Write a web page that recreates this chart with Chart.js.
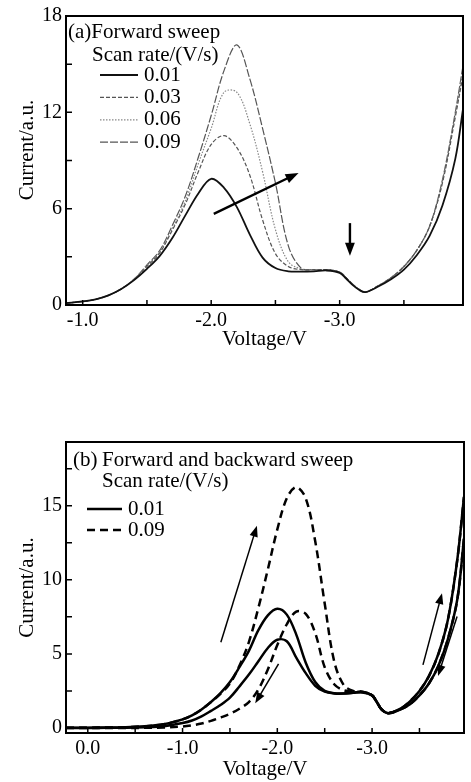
<!DOCTYPE html>
<html>
<head>
<meta charset="utf-8">
<script src="https://cdn.jsdelivr.net/npm/chart.js@4.4.0/dist/chart.umd.min.js"></script>
<style>
  html, body { margin: 0; padding: 0; background: #fff; }
  .wrap { position: absolute; left: 0; }
</style>
</head>
<body>
<div class="wrap" style="top:0"><canvas id="chartA" width="471" height="370"></canvas></div>
<div class="wrap" style="top:400px"><canvas id="chartB" width="471" height="382"></canvas></div>
<script>
const FONT = "'Liberation Serif', 'Times New Roman', serif";

// ---- panel (a): forward sweep, four scan rates ----
const voltA = [-0.87, -1.0, -1.1, -1.2, -1.3, -1.4, -1.5, -1.6, -1.7, -1.8, -1.9, -2.0, -2.1, -2.2, -2.3, -2.4, -2.5,
  -2.6, -2.7, -2.8, -2.9, -3.0, -3.05, -3.1, -3.15, -3.2, -3.3, -3.4, -3.5, -3.6, -3.7, -3.8, -3.9, -3.96];
const curA001 = [0.12, 0.22, 0.35, 0.6, 1.0, 1.55, 2.25, 3.06, 4.2, 5.6, 6.95, 7.86, 7.3, 6.1, 4.4, 2.95, 2.3,
  2.1, 2.08, 2.1, 2.15, 2.0, 1.65, 1.25, 0.95, 0.8, 1.15, 1.6, 2.2, 3.1, 4.3, 6.2, 9.1, 12.2];
const curA003 = [0.12, 0.22, 0.35, 0.6, 1.0, 1.6, 2.4, 3.25, 4.7, 6.3, 8.3, 10.0, 10.55, 9.8, 8.1, 5.3, 3.2,
  2.4, 2.2, 2.2, 2.2, 2.05, 1.7, 1.3, 0.98, 0.8, 1.2, 1.7, 2.4, 3.4, 4.9, 7.6, 11.7, 14.3];
const curA006 = [0.12, 0.22, 0.35, 0.6, 1.0, 1.6, 2.45, 3.3, 4.8, 6.5, 8.8, 11.0, 13.25, 13.25, 11.3, 8.3, 4.7,
  2.7, 2.25, 2.2, 2.2, 2.05, 1.7, 1.3, 0.98, 0.8, 1.2, 1.7, 2.4, 3.4, 4.9, 7.7, 11.9, 14.6];
const curA009 = [0.12, 0.22, 0.35, 0.6, 1.0, 1.6, 2.5, 3.4, 5.0, 6.8, 9.2, 11.8, 14.6, 16.2, 14.1, 11.0, 7.6,
  3.7, 2.3, 2.2, 2.2, 2.05, 1.7, 1.3, 0.98, 0.8, 1.2, 1.7, 2.4, 3.4, 4.9, 7.8, 12.0, 14.9];
const ratesA = ['0.01', '0.03', '0.06', '0.09'];
const xTicksA = [-1.0, -1.5, -2.0, -2.5, -3.0, -3.5];
const yTicksA = [0, 3, 6, 9, 12, 15, 18];
const arrowsA = [[-2.02, 5.68, -2.68, 8.22], [-3.08, 5.1, -3.08, 3.06]];

// ---- panel (b): forward and backward sweep ----
const voltB = [0.23, 0.0, -0.2, -0.4, -0.6, -0.8, -1.0, -1.1, -1.2, -1.3, -1.4, -1.5, -1.6, -1.7, -1.8, -1.9, -2.0,
  -2.1, -2.2, -2.3, -2.4, -2.5, -2.6, -2.7, -2.8, -2.9, -3.0, -3.05, -3.1, -3.17, -3.3, -3.4, -3.5, -3.6, -3.7,
  -3.8, -3.9, -3.97];
const curB001f = [0.02, 0.02, 0.03, 0.05, 0.12, 0.25, 0.58, 0.85, 1.25, 1.75, 2.35, 3.1, 4.1, 5.2, 6.6, 7.6, 8.05,
  7.65, 6.3, 4.4, 3.1, 2.5, 2.35, 2.33, 2.38, 2.42, 2.2, 1.75, 1.25, 1.0, 1.3, 1.8, 2.5, 3.5, 5.0, 7.3, 11.4, 15.6];
const curB001b = [0.0, 0.0, 0.01, 0.02, 0.05, 0.12, 0.33, 0.5, 0.78, 1.15, 1.55, 2.05, 2.8, 3.6, 4.5, 5.4, 5.95,
  5.85, 4.75, 3.7, 2.85, 2.45, 2.33, 2.32, 2.37, 2.4, 2.2, 1.75, 1.25, 1.0, 1.25, 1.6, 2.2, 3.0, 4.2, 6.0, 8.7, 12.8];
const curB009f = [0.02, 0.02, 0.03, 0.05, 0.12, 0.25, 0.58, 0.85, 1.25, 1.75, 2.3, 3.0, 4.2, 5.8, 8.1, 10.7, 13.4,
  15.5, 16.25, 15.5, 12.6, 8.4, 4.5, 2.9, 2.5, 2.45, 2.2, 1.75, 1.25, 1.0, 1.3, 1.8, 2.5, 3.5, 5.0, 7.3, 11.4, 15.6];
const curB009b = [0.0, 0.0, 0.0, 0.0, 0.01, 0.03, 0.1, 0.18, 0.3, 0.48, 0.7, 0.95, 1.3, 1.75, 2.6, 3.95, 5.6,
  7.0, 7.85, 7.7, 6.4, 4.1, 2.95, 2.55, 2.45, 2.42, 2.2, 1.75, 1.25, 1.0, 1.25, 1.6, 2.2, 3.0, 4.2, 6.0, 8.7, 12.8];
const ratesB = ['0.01', '0.09'];
const xTicksB = [0.0, -0.5, -1.0, -1.5, -2.0, -2.5, -3.0, -3.5];
const yTicksB = [0, 2.5, 5, 7.5, 10, 12.5, 15, 17.5];
const arrowsB = [[-1.404, 5.79, -1.785, 13.65], [-2.013, 4.32, -1.767, 1.67],
  [-3.537, 4.26, -3.738, 9.1], [-3.897, 7.52, -3.696, 3.51]];

const pts = (xs, ys) => xs.map((v, i) => ({ x: v, y: ys[i] }));

function drawArrow(ctx, x1, y1, x2, y2, w, head) {
  const a = Math.atan2(y2 - y1, x2 - x1);
  const c = Math.cos(a), s = Math.sin(a);
  ctx.save();
  ctx.strokeStyle = '#000';
  ctx.fillStyle = '#000';
  ctx.lineWidth = w;
  ctx.setLineDash([]);
  ctx.beginPath();
  ctx.moveTo(x1, y1);
  ctx.lineTo(x2 - c * head * 0.8, y2 - s * head * 0.8);
  ctx.stroke();
  const hw = head * 0.38;
  ctx.beginPath();
  ctx.moveTo(x2, y2);
  ctx.lineTo(x2 - head * c + hw * s, y2 - head * s - hw * c);
  ctx.lineTo(x2 - head * c - hw * s, y2 - head * s + hw * c);
  ctx.closePath();
  ctx.fill();
  ctx.restore();
}

// box around the plot and inward tick marks
const framePlugin = {
  id: 'frame',
  afterDraw(chart) {
    const { ctx, chartArea: a, scales: { x, y } } = chart;
    ctx.save();
    ctx.strokeStyle = '#000';
    ctx.lineWidth = 1.5;
    ctx.beginPath();
    x.ticks.forEach(t => {
      const px = x.getPixelForValue(t.value);
      ctx.moveTo(px, a.bottom);
      ctx.lineTo(px, a.bottom - 5);
    });
    y.ticks.forEach(t => {
      const py = y.getPixelForValue(t.value);
      ctx.moveTo(a.left, py);
      ctx.lineTo(a.left + 6, py);
    });
    ctx.stroke();
    ctx.lineWidth = 2;
    ctx.strokeRect(a.left, a.top, a.right - a.left, a.bottom - a.top);
    ctx.restore();
  }
};

function notesPlugin(header, sub, legendDx, legendDy, legendGap, lineLen, arrows, arrowW, arrowHead) {
  return {
    id: 'notes',
    afterDatasetsDraw(chart) {
      const { ctx, chartArea: a, scales: { x, y } } = chart;
      ctx.save();
      ctx.fillStyle = '#000';
      ctx.font = '21px ' + FONT;
      ctx.textBaseline = 'middle';
      header.forEach(h => ctx.fillText(h[0], a.left + h[1], a.top + h[2]));
      ctx.fillText(sub[0], a.left + sub[1], a.top + sub[2]);
      const shown = chart.data.datasets.filter(ds => !ds.hideInLegend);
      shown.forEach((ds, i) => {
        const yy = a.top + legendDy + i * legendGap;
        ctx.strokeStyle = ds.borderColor;
        ctx.lineWidth = ds.borderWidth;
        ctx.setLineDash(ds.borderDash || []);
        ctx.beginPath();
        ctx.moveTo(a.left + legendDx, yy);
        ctx.lineTo(a.left + legendDx + lineLen, yy);
        ctx.stroke();
        ctx.setLineDash([]);
        ctx.fillText(ds.label, a.left + legendDx + lineLen + 6, yy);
      });
      ctx.restore();
      arrows.forEach(r => drawArrow(ctx, x.getPixelForValue(r[0]), y.getPixelForValue(r[1]),
        x.getPixelForValue(r[2]), y.getPixelForValue(r[3]), arrowW, arrowHead));
    }
  };
}

function axisOptions(ticksList, min, max, reverse, fmt) {
  return {
    type: 'linear', min: min, max: max, reverse: reverse,
    grid: { display: false, drawTicks: false },
    border: { display: false },
    afterBuildTicks: s => { s.ticks = ticksList.map(v => ({ value: v })); },
    ticks: { color: '#000', font: { family: FONT, size: 20 }, padding: 4, callback: fmt }
  };
}

// ---- chart (a) ----
const styleA = [
  { color: '#111', width: 1.8, dash: [] },
  { color: '#555', width: 1.2, dash: [4, 2] },
  { color: '#888', width: 1.2, dash: [1.5, 1.5] },
  { color: '#555', width: 1.2, dash: [8, 2] }
];
const seriesA = [curA001, curA003, curA006, curA009];

const xA = axisOptions(xTicksA, -3.96, -0.87, true, v => Number.isInteger(v) ? v.toFixed(1) : '');
xA.afterFit = s => { s.height = 65; };
xA.title = { display: true, text: 'Voltage/V', color: '#000', font: { family: FONT, size: 21, lineHeight: 1.2 }, padding: { top: 0, bottom: 18.4 } };
const yA = axisOptions(yTicksA, 0, 18, false, v => v % 6 === 0 ? String(v) : '');
yA.afterFit = s => { s.width = 66; };
yA.title = { display: true, text: '    Current/a.u.', color: '#000', font: { family: FONT, size: 21, lineHeight: 1.2 }, padding: { top: 14.4, bottom: 0 } };

new Chart(document.getElementById('chartA'), {
  type: 'line',
  data: {
    datasets: seriesA.map((s, i) => ({
      label: ratesA[i],
      data: pts(voltA, s),
      borderColor: styleA[i].color,
      borderWidth: styleA[i].width,
      borderDash: styleA[i].dash,
      pointRadius: 0,
      tension: 0.35,
      fill: false
    }))
  },
  options: {
    responsive: false,
    animation: false,
    layout: { padding: { top: 13, right: 8, left: 0, bottom: 0 } },
    scales: { x: xA, y: yA },
    plugins: { legend: { display: false }, tooltip: { enabled: false } }
  },
  plugins: [framePlugin, notesPlugin([['(a)Forward sweep', 2, 16.5]], ['Scan rate/(V/s)', 26, 39],
    34, 59, 22.4, 38, arrowsA, 2.4, 13)]
});

// ---- chart (b) ----
const xB = axisOptions(xTicksB, -3.97, 0.23, true, v => Number.isInteger(v) ? v.toFixed(1) : '');
xB.afterFit = s => { s.height = 49; };
xB.title = { display: true, text: 'Voltage/V', color: '#000', font: { family: FONT, size: 21, lineHeight: 1.2 }, padding: { top: 0, bottom: 0.4 } };
const yB = axisOptions(yTicksB, -0.34, 19.3, false, v => v % 5 === 0 ? String(v) : '');
yB.afterFit = s => { s.width = 66; };
yB.title = { display: true, text: 'Current/a.u.', color: '#000', font: { family: FONT, size: 21, lineHeight: 1.2 }, padding: { top: 14.9, bottom: 0 } };

const lineB = (label, ys, dash, hide) => ({
  label: label, data: pts(voltB, ys), borderColor: '#000', borderWidth: 2.5, borderDash: dash,
  pointRadius: 0, tension: 0.35, fill: false, hideInLegend: hide
});

new Chart(document.getElementById('chartB'), {
  type: 'line',
  data: {
    datasets: [
      lineB(ratesB[0], curB001f, [], false),
      lineB(ratesB[1], curB009f, [8, 5], false),
      lineB(ratesB[0], curB001b, [], true),
      lineB(ratesB[1], curB009b, [8, 5], true)
    ]
  },
  options: {
    responsive: false,
    animation: false,
    layout: { padding: { top: 42, right: 7, left: 0, bottom: 0 } },
    scales: { x: xB, y: yB },
    plugins: { legend: { display: false }, tooltip: { enabled: false } }
  },
  plugins: [framePlugin, notesPlugin([['(b)', 7, 18], ['Forward and backward sweep', 36, 18]],
    ['Scan rate/(V/s)', 36, 39], 21, 67, 21, 35, arrowsB, 1.5, 11)]
});
</script>
</body>
</html>
